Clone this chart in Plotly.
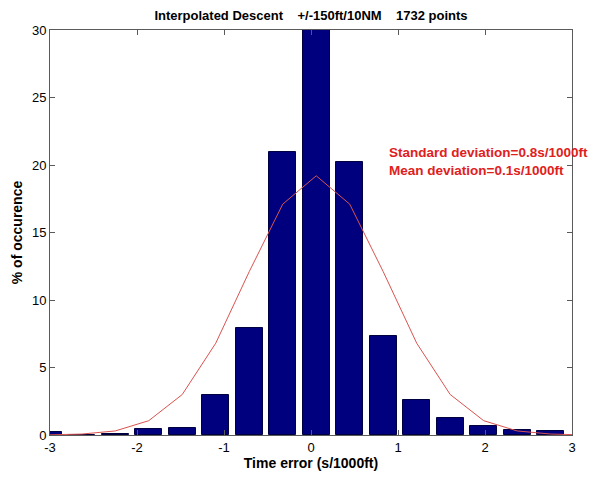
import plotly.graph_objects as go

# Histogram bin centres (s/1000ft) and share of points per bin (%)
bin_centers = [-3.02, -2.635, -2.25, -1.865, -1.48, -1.095, -0.71, -0.325,
               0.06, 0.445, 0.83, 1.215, 1.60, 1.985, 2.37, 2.755]
occurrence = [0.2, 0.0, 0.08, 0.45, 0.5, 2.95, 7.9, 21.0,
              34.2, 20.2, 7.3, 2.6, 1.25, 0.65, 0.36, 0.3]

# Fitted normal curve evaluated at the bin centres (%)
fit_x = [-3.02, -2.635, -2.25, -1.865, -1.48, -1.095, -0.71, -0.325,
         0.06, 0.445, 0.83, 1.215, 1.60, 1.985, 2.37, 2.755, 3.14]
fit_y = [0.01, 0.07, 0.30, 1.06, 3.0, 6.8, 12.1, 17.1,
         19.2, 17.1, 12.1, 6.8, 3.0, 1.06, 0.30, 0.07, 0.01]

x_ticks = [-3, -2, -1, 0, 1, 2, 3]
y_ticks = [0, 5, 10, 15, 20, 25, 30]

title_text = "Interpolated Descent    +/-150ft/10NM    1732 points"
stats_text = "Standard deviation=0.8s/1000ft<br>Mean deviation=0.1s/1000ft"

FONT = "Liberation Sans, Arial, sans-serif"
AXIS = "#5a5a5a"

fig = go.Figure()
fig.add_trace(go.Bar(
    x=bin_centers, y=occurrence, width=0.31,
    marker=dict(color="#00007f", line=dict(color="#000040", width=1)),
    showlegend=False,
))
fig.add_trace(go.Scatter(
    x=fit_x, y=fit_y, mode="lines",
    line=dict(color="#d9534f", width=1),
    showlegend=False,
))

axis_common = dict(
    showline=True, linecolor=AXIS, linewidth=1, mirror="ticks",
    ticks="inside", ticklen=5, tickcolor=AXIS, tickwidth=1,
    showgrid=False, zeroline=False,
    tickfont=dict(family=FONT, size=13, color="#000"),
)

fig.update_xaxes(range=[-3, 3], tickvals=x_ticks,
                 ticktext=[str(v) for v in x_ticks],
                 title=dict(text="<b>Time error (s/1000ft)</b>", standoff=2,
                            font=dict(family=FONT, size=14, color="#000")),
                 **axis_common)
fig.update_yaxes(range=[0, 30], tickvals=y_ticks,
                 title=dict(text="<b>% of occurence</b>", standoff=6,
                            font=dict(family=FONT, size=14, color="#000")),
                 **axis_common)

plot_w = 605 - 50 - 33
plot_h = 478 - 30 - 37

# Statistics text, positioned relative to the plot area
fig.add_annotation(
    x=(387 - 50) / plot_w, y=(441 - 163) / plot_h,
    xref="paper", yref="paper", text="<b>" + stats_text + "</b>",
    showarrow=False, align="left", xanchor="left", yanchor="middle",
    font=dict(family=FONT, size=13.5, color="#e0201c"),
)

fig.update_layout(
    width=605, height=478,
    margin=dict(l=50, r=33, t=30, b=37),
    paper_bgcolor="white", plot_bgcolor="white",
    bargap=0,
    title=dict(text="<b>" + title_text + "</b>", x=0.5, xref="paper",
               y=1 - 15 / 478, yanchor="middle",
               font=dict(family=FONT, size=13, color="#000")),
)

fig.write_html("out.html")
